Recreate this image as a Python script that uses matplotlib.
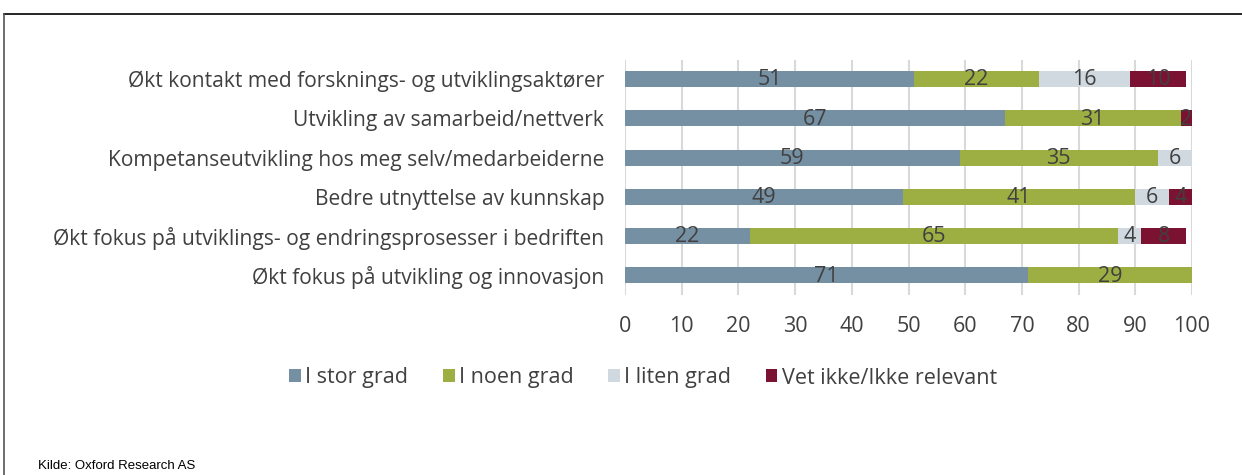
import matplotlib
matplotlib.use("Agg")
import matplotlib.pyplot as plt
from matplotlib.lines import Line2D
import numpy as np

plt.rcParams['font.family'] = ['Open Sans', 'DejaVu Sans']

categories = [
    "Økt kontakt med forsknings- og utviklingsaktører",
    "Utvikling av samarbeid/nettverk",
    "Kompetanseutvikling hos meg selv/medarbeiderne",
    "Bedre utnyttelse av kunnskap",
    "Økt fokus på utviklings- og endringsprosesser i bedriften",
    "Økt fokus på utvikling og innovasjon",
]
series_names = ["I stor grad", "I noen grad", "I liten grad", "Vet ikke/Ikke relevant"]
stor = [51, 67, 59, 49, 22, 71]
noen = [22, 31, 35, 41, 65, 29]
liten = [16, 0, 6, 6, 4, 0]
vet = [10, 2, 0, 4, 8, 0]
xticks = [0, 10, 20, 30, 40, 50, 60, 70, 80, 90, 100]
source = "Kilde: Oxford Research AS"

colors = ["#7590A3", "#9DAF42", "#D0D9E0", "#7B1232"]
text_col = "#404040"
fs = 15.5

fig = plt.figure(figsize=(12.42, 4.75), dpi=100)
ax = fig.add_axes([625/1242, 1-295/475, (1192-625)/1242, (295-59.5)/475])

y = np.arange(len(categories))
left = np.zeros(len(categories))
for vals, name, c in zip([stor, noen, liten, vet], series_names, colors):
    vals = np.array(vals, dtype=float)
    bars = ax.barh(y, vals, left=left, height=0.41, color=c, label=name, zorder=3)
    for b, v in zip(bars, vals):
        if v > 0:
            ax.text(b.get_x() + b.get_width()/2, b.get_y() + b.get_height()/2 + 0.02,
                    f"{int(v)}", ha="center", va="center", fontsize=fs,
                    color=text_col, zorder=4)
    left += vals

ax.set_xlim(0, 100)
ax.set_ylim(len(categories) - 0.5, -0.5)
ax.set_xticks(xticks)
ax.set_xticklabels([str(t) for t in xticks], fontsize=fs, color=text_col)
ax.set_yticks(y)
ax.set_yticklabels(categories, fontsize=15.1, color=text_col)
ax.tick_params(axis="both", length=0)
ax.tick_params(axis="x", pad=15)
ax.tick_params(axis="y", pad=15)
ax.grid(axis="x", color="#D9D9D9", linewidth=1.5, zorder=0)
for s in ax.spines.values():
    s.set_visible(False)

leg = fig.legend(loc="center", bbox_to_anchor=(643/1242, 1-378/475), ncol=4,
                 frameon=False, fontsize=fs, handlelength=0.55, handleheight=0.55,
                 handletextpad=0.2, columnspacing=1.6)
for t in leg.get_texts():
    t.set_color(text_col)

fig.text(38/1242, 1-466/475, source, fontsize=9.5, ha="left", va="center",
         family=["Liberation Sans Narrow", "Liberation Sans", "DejaVu Sans"], color="#000000")

# outer frame
fig.add_artist(Line2D([4/1242, 1.0], [1-14/475, 1-14/475], transform=fig.transFigure,
                      color="#000000", linewidth=1.2))
fig.add_artist(Line2D([4/1242, 4/1242], [1-14/475, 0.0], transform=fig.transFigure,
                      color="#555555", linewidth=1.2))

fig.savefig("out.png", dpi=100)
